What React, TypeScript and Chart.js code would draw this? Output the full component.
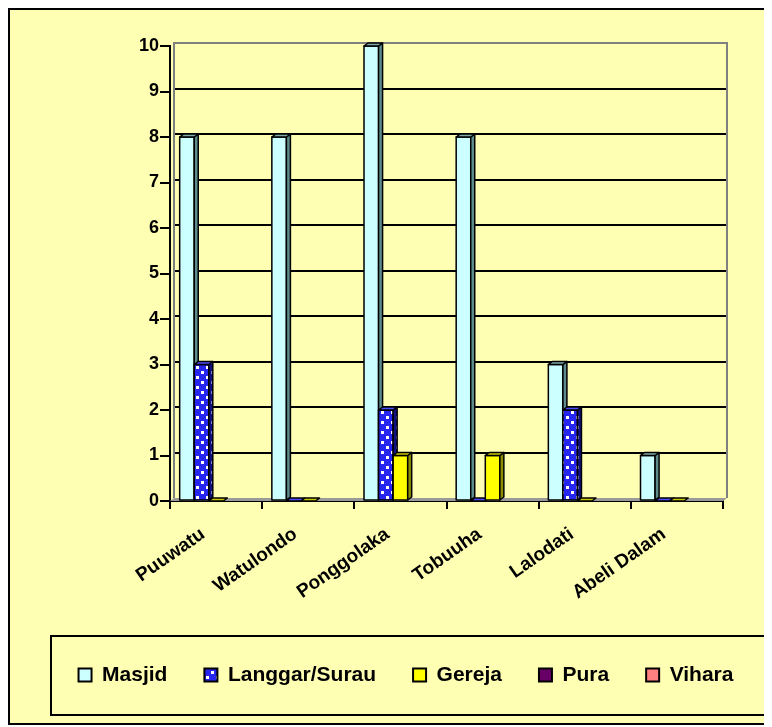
import React, { useEffect, useRef } from 'react';
import { Chart, registerables } from 'chart.js';

Chart.register(...registerables);

// ---- data ----
const categories = ['Puuwatu', 'Watulondo', 'Ponggolaka', 'Tobuuha', 'Lalodati', 'Abeli Dalam'];
const seriesNames = ['Masjid', 'Langgar/Surau', 'Gereja', 'Pura', 'Vihara'];
const masjid = [8, 8, 10, 8, 3, 1];
const langgarSurau = [3, 0, 2, 0, 2, 0];
const gereja = [0, 0, 1, 1, 0, 0];
const pura = [null, null, null, null, null, null];
const vihara = [null, null, null, null, null, null];
const yMin = 0;
const yMax = 10;
const yStep = 1;

// ---- styles ----
const FONT = 'Arial, "Liberation Sans", sans-serif';
const BG = '#FFFFB3';
const frontColors = ['#CCFFFF', '#2626F0', '#FFFF00', '#660066', '#FF8080'];
const sideColors = ['#5E8C8C', '#101080', '#8C8C00', '#330033', '#996060'];
const topColors = ['#7FA8A8', '#4D4DFF', '#C8C800', '#4D004D', '#CC6666'];
const DX = 4;
const DY = 3;

function makeDotPattern(ctx: CanvasRenderingContext2D, bg: string, dot: string) {
  const c = document.createElement('canvas');
  c.width = 10;
  c.height = 10;
  const g = c.getContext('2d')!;
  g.fillStyle = bg;
  g.fillRect(0, 0, 10, 10);
  g.fillStyle = dot;
  g.fillRect(1, 1, 3, 3);
  g.fillRect(6, 6, 3, 3);
  return ctx.createPattern(c, 'repeat');
}

const bgPlugin = {
  id: 'bgFill',
  beforeDraw(chart: any) {
    const ctx = chart.ctx;
    ctx.save();
    ctx.globalCompositeOperation = 'destination-over';
    ctx.fillStyle = BG;
    ctx.fillRect(0, 0, chart.width, chart.height);
    ctx.restore();
  },
};

const wallPlugin = {
  id: 'wall3d',
  beforeDatasetsDraw(chart: any) {
    const { ctx, chartArea } = chart;
    const { left, right } = chartArea;
    const y = chart.scales.y;
    const y0 = y.getPixelForValue(y.min);
    const yTop = y.getPixelForValue(y.max);
    ctx.save();
    ctx.fillStyle = '#9A9A9A';
    ctx.beginPath();
    ctx.moveTo(left, y0);
    ctx.lineTo(right, y0);
    ctx.lineTo(right + DX, y0 - DY);
    ctx.lineTo(left + DX, y0 - DY);
    ctx.closePath();
    ctx.fill();
    ctx.strokeStyle = '#000';
    ctx.lineWidth = 2;
    y.ticks.forEach((t: any) => {
      if (t.value <= y.min || t.value >= y.max) return;
      const py = Math.round(y.getPixelForValue(t.value) - DY);
      ctx.beginPath();
      ctx.moveTo(left + DX, py);
      ctx.lineTo(right + DX, py);
      ctx.stroke();
    });
    ctx.strokeStyle = '#808080';
    ctx.beginPath();
    ctx.moveTo(left + DX, y0 - DY);
    ctx.lineTo(left + DX, yTop - DY);
    ctx.lineTo(right + DX, yTop - DY);
    ctx.lineTo(right + DX, y0 - DY);
    ctx.stroke();
    ctx.restore();
  },
};

const bars3dPlugin = {
  id: 'bars3d',
  afterDatasetsDraw(chart: any, _args: any, opts: any) {
    const ctx = chart.ctx as CanvasRenderingContext2D;
    const faces = opts.faces;
    if (!faces) return;
    ctx.save();
    ctx.strokeStyle = '#000';
    ctx.lineWidth = 1.5;
    ctx.lineJoin = 'round';
    chart.data.datasets.forEach((ds: any, i: number) => {
      if (!chart.isDatasetVisible(i)) return;
      const meta = chart.getDatasetMeta(i);
      meta.data.forEach((el: any, j: number) => {
        const v = ds.data[j];
        if (v === null || v === undefined) return;
        const { x, y, base, width } = el.getProps(['x', 'y', 'base', 'width'], true);
        const l = x - width / 2;
        const r = x + width / 2;
        const t = Math.min(y, base);
        const b = Math.max(y, base);
        if (b - t > 0.5) {
          ctx.fillStyle = faces.front[i];
          ctx.fillRect(l, t, r - l, b - t);
          ctx.strokeRect(l, t, r - l, b - t);
          ctx.fillStyle = faces.side[i];
          ctx.beginPath();
          ctx.moveTo(r, t);
          ctx.lineTo(r + DX, t - DY);
          ctx.lineTo(r + DX, b - DY);
          ctx.lineTo(r, b);
          ctx.closePath();
          ctx.fill();
          ctx.stroke();
        }
        ctx.fillStyle = faces.top[i];
        ctx.beginPath();
        ctx.moveTo(l, t);
        ctx.lineTo(l + DX, t - DY);
        ctx.lineTo(r + DX, t - DY);
        ctx.lineTo(r, t);
        ctx.closePath();
        ctx.fill();
        ctx.stroke();
      });
    });
    ctx.restore();
  },
};

const legendFramePlugin = {
  id: 'legendFrame',
  afterDraw(chart: any) {
    const lg = chart.legend;
    if (!lg || !lg.legendHitBoxes || !lg.legendHitBoxes.length) return;
    const hb = lg.legendHitBoxes[0];
    const cy = hb.top + hb.height / 2;
    const ctx = chart.ctx;
    ctx.save();
    ctx.strokeStyle = '#000';
    ctx.lineWidth = 2;
    ctx.strokeRect(41, Math.round(cy - 39.5), chart.width - 5 - 41, 79);
    ctx.restore();
  },
};

export default function App() {
  const ref = useRef<HTMLCanvasElement>(null);

  useEffect(() => {
    const canvas = ref.current!;
    const ctx = canvas.getContext('2d')!;
    const pattern = makeDotPattern(ctx, '#2626F0', '#FFFFFF');
    const sidePattern = makeDotPattern(ctx, '#101080', '#8080C0');
    const front: any[] = frontColors.slice();
    front[1] = pattern;
    const side: any[] = sideColors.slice();
    side[1] = sidePattern;

    const seriesData = [masjid, langgarSurau, gereja, pura, vihara];

    Chart.defaults.font.family = FONT;
    Chart.defaults.color = '#000';

    const chart: any = new Chart(ctx, {
      type: 'bar',
      data: {
        labels: categories,
        datasets: seriesNames.map((name, i) => ({
          label: name,
          data: seriesData[i] as any,
          backgroundColor: front[i],
          borderColor: '#000',
          borderWidth: 1,
          categoryPercentage: 0.79,
          barPercentage: 1,
        })),
      },
      options: {
        animation: false,
        responsive: false,
        events: [],
        layout: { padding: { left: 30, right: 0, top: 36, bottom: 27.5 } },
        scales: {
          x: {
            grid: {
              offset: true,
              drawOnChartArea: false,
              drawTicks: true,
              tickLength: 8,
              color: '#000',
              lineWidth: 2,
            },
            border: { display: true, color: '#000', width: 2 },
            ticks: {
              autoSkip: false,
              minRotation: 35,
              maxRotation: 35,
              padding: 14,
              labelOffset: -13,
              color: '#000',
              font: { size: 19, weight: 'bold', family: FONT },
            },
            afterFit: (s: any) => {
              s.height = 126.5;
            },
          },
          y: {
            min: yMin,
            max: yMax,
            ticks: {
              stepSize: yStep,
              padding: 1,
              color: '#000',
              font: { size: 18, weight: 'bold', family: FONT },
            },
            grid: {
              drawOnChartArea: false,
              drawTicks: true,
              tickLength: 10,
              color: '#000',
              lineWidth: 2,
            },
            border: { display: true, color: '#000', width: 2 },
            afterFit: (s: any) => {
              s.width = 130;
            },
          },
          yR: {
            type: 'linear',
            position: 'right',
            display: true,
            grid: { display: false },
            border: { display: false },
            ticks: { display: false },
            afterFit: (s: any) => {
              s.width = 49;
            },
          },
        },
        plugins: {
          tooltip: { enabled: false },
          bars3d: { faces: { front, side, top: topColors } },
          legend: {
            position: 'bottom',
            labels: {
              boxWidth: 13,
              boxHeight: 13,
              padding: 37,
              color: '#000',
              font: { size: 21, weight: 'bold', family: FONT },
              generateLabels: (c: any) =>
                c.data.datasets.map((ds: any, i: number) => ({
                  text: ds.label,
                  fillStyle: front[i],
                  strokeStyle: '#000',
                  lineWidth: 2,
                  hidden: false,
                  datasetIndex: i,
                  fontColor: '#000',
                })),
            },
          },
        },
      } as any,
      plugins: [bgPlugin, wallPlugin, bars3dPlugin, legendFramePlugin],
    });

    return () => chart.destroy();
  }, []);

  return (
    <div
      style={{
        width: 762,
        height: 713,
        borderTop: '2px solid #000',
        borderLeft: '2px solid #000',
        borderBottom: '2px solid #000',
        backgroundColor: BG,
      }}
    >
      <canvas ref={ref} width={762} height={713} style={{ display: 'block' }} />
    </div>
  );
}
